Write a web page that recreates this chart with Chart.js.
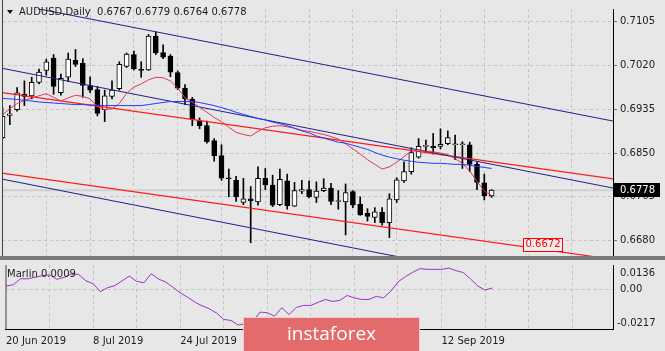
<!DOCTYPE html>
<html>
<head>
<meta charset="utf-8">
<script src="https://cdn.jsdelivr.net/npm/chart.js@4.4.1/dist/chart.umd.min.js"></script>
<style>
    html, body { margin: 0; padding: 0; background: #e7e7e7; overflow: hidden; }
    #painelPreco { position: absolute; left: 0; top: 0; width: 665px; height: 265px; }
    #painelMarlin { position: absolute; left: 0; top: 265px; width: 665px; height: 86px; }
</style>
</head>
<body>
<div id="painelPreco"><canvas id="precoChart"></canvas></div>
<div id="painelMarlin"><canvas id="marlinChart"></canvas></div>
<script>
/* ==============================================
   DADOS (AUDUSD, Daily)
   ============================================== */
const symbolTitle = 'AUDUSD,Daily';

const opens = [0.6880,0.6923,0.6934,0.6964,0.6961,0.6987,0.7010,0.7034,0.6967,0.6997,
    0.7030,0.7024,0.6981,0.6973,0.6934,0.6960,0.6975,0.7018,0.7041,0.7013,
    0.7011,0.7077,0.7045,0.7038,0.7006,0.6976,0.6954,0.6912,0.6903,0.6874,
    0.6845,0.6801,0.6797,0.6754,0.6761,0.6755,0.6801,0.6788,0.6750,0.6796,
    0.6747,0.6776,0.6779,0.6764,0.6777,0.6782,0.6756,0.6755,0.6775,0.6751,
    0.6733,0.6725,0.6735,0.6715,0.6759,0.6796,0.6814,0.6842,0.6863,0.6863,
    0.6863,0.6868,0.6866,0.6866,0.6866,0.6828,0.6792,0.6767];

const highs = [0.6938,0.6942,0.6977,0.6990,0.6997,0.7013,0.7032,0.7041,0.7003,0.7044,
    0.7051,0.7033,0.6998,0.6979,0.6972,0.6990,0.7027,0.7044,0.7048,0.7027,
    0.7080,0.7085,0.7060,0.7041,0.7009,0.6983,0.6958,0.6918,0.6912,0.6878,
    0.6866,0.6819,0.6805,0.6801,0.6785,0.6823,0.6820,0.6807,0.6819,0.6809,
    0.6793,0.6797,0.6796,0.6794,0.6800,0.6791,0.6777,0.6790,0.6777,0.6765,
    0.6742,0.6744,0.6744,0.6771,0.6802,0.6833,0.6860,0.6878,0.6875,0.6888,
    0.6897,0.6893,0.6885,0.6872,0.6871,0.6833,0.6809,0.6779];

const lows = [0.6878,0.6905,0.6931,0.6942,0.6955,0.6984,0.7001,0.6964,0.6962,0.6989,
    0.7018,0.6958,0.6967,0.6922,0.6911,0.6955,0.6972,0.7016,0.7011,0.6997,
    0.7010,0.7041,0.7033,0.6998,0.6973,0.6944,0.6903,0.6897,0.6869,0.6834,
    0.6797,0.6765,0.6756,0.6750,0.6676,0.6749,0.6779,0.6746,0.6748,0.6741,
    0.6746,0.6771,0.6763,0.6754,0.6775,0.6750,0.6741,0.6691,0.6744,0.6729,
    0.6718,0.6715,0.6710,0.6686,0.6754,0.6793,0.6809,0.6840,0.6850,0.6848,
    0.6858,0.6866,0.6837,0.6820,0.6814,0.6779,0.6759,0.6764];

const closes = [0.6921,0.6926,0.6967,0.6960,0.6987,0.7007,0.7027,0.6979,0.6995,0.7032,
    0.7022,0.6981,0.6972,0.6927,0.6961,0.6972,0.7022,0.7042,0.7013,0.7010,
    0.7077,0.7044,0.7036,0.7007,0.6976,0.6955,0.6915,0.6903,0.6872,0.6845,
    0.6801,0.6800,0.6765,0.6761,0.6757,0.6801,0.6788,0.6749,0.6799,0.6748,
    0.6777,0.6779,0.6765,0.6776,0.6782,0.6756,0.6756,0.6773,0.6749,0.6730,
    0.6727,0.6736,0.6715,0.6761,0.6798,0.6814,0.6851,0.6863,0.6863,0.6860,
    0.6867,0.6880,0.6866,0.6866,0.6828,0.6793,0.6767,0.6778];

// media rapida (vermelha) e lenta (azul)
const fastMA = [0.6924,0.6936,0.6946,0.6952,0.6957,0.6961,0.6965,0.6958,0.6951,0.6957,
    0.6962,0.6960,0.6955,0.6940,0.6934,0.6936,0.6946,0.6966,0.6978,0.6984,
    0.6992,0.6997,0.6996,0.6990,0.6976,0.6957,0.6948,0.6939,0.6929,0.6919,
    0.6911,0.6900,0.6890,0.6886,0.6883,0.6892,0.6899,0.6902,0.6903,0.6901,
    0.6898,0.6894,0.6892,0.6889,0.6886,0.6882,0.6877,0.6868,0.6858,0.6848,
    0.6837,0.6828,0.6819,0.6823,0.6832,0.6843,0.6854,0.6856,0.6854,0.6852,
    0.6850,0.6847,0.6839,0.6830,0.6815,0.6795,0.6776,0.6768];

const slowMA = [0.6956,0.6955,0.6954,0.6952,0.6951,0.6949,0.6948,0.6947,0.6946,0.6945,
    0.6944,0.6944,0.6943,0.6943,0.6942,0.6942,0.6942,0.6942,0.6942,0.6942,
    0.6944,0.6946,0.6948,0.6950,0.6950,0.6950,0.6950,0.6948,0.6945,0.6942,
    0.6938,0.6934,0.6929,0.6925,0.6921,0.6917,0.6914,0.6910,0.6907,0.6903,
    0.6898,0.6893,0.6889,0.6883,0.6879,0.6875,0.6871,0.6869,0.6865,0.6861,
    0.6857,0.6851,0.6846,0.6842,0.6839,0.6836,0.6834,0.6832,0.6831,0.6830,
    0.6830,0.6829,0.6828,0.6828,0.6826,0.6824,0.6822,0.6820];

const marlin = [0.0020,0.0027,0.0060,0.0060,0.0068,0.0077,0.0082,0.0057,0.0068,0.0086,
    0.0084,0.0049,0.0033,-0.0011,0.0011,0.0022,0.0049,0.0075,0.0046,0.0038,
    0.0088,0.0059,0.0042,0.0013,-0.0017,-0.0041,-0.0068,-0.0089,-0.0105,-0.0129,
    -0.0164,-0.0170,-0.0195,-0.0188,-0.0175,-0.0124,-0.0127,-0.0146,-0.0100,-0.0137,
    -0.0098,-0.0087,-0.0087,-0.0070,-0.0054,-0.0065,-0.0059,-0.0032,-0.0046,-0.0054,
    -0.0054,-0.0037,-0.0045,-0.0010,0.0042,0.0071,0.0095,0.0116,0.0112,0.0112,
    0.0112,0.0119,0.0105,0.0094,0.0059,0.0020,-0.0002,0.0009];

// canais (barra inicial / final e preco em cada ponta)
const channelBars = [-1, 84];
const navyUpper = [0.7146, 0.6911];
const navyMiddle = [0.7017, 0.6781];
const navyLower = [0.6802, 0.6566];
const redUpper = [0.6969, 0.6799];
const redLower = [0.6813, 0.6643];
const redLabelBar = 71.3;
const redLabelPrice = 0.6672;

// eixos
const priceTicks = [0.7105, 0.7020, 0.6935, 0.6850, 0.6765, 0.6680];
const marlinTicks = [0.0136, 0, -0.0217];
const gridBars = [0, 6, 12, 18, 24, 30, 36, 42, 48, 54, 60, 66, 72, 78];
const dateBars = [0, 12, 24, 36, 48, 60];
const dateLabels = ['20 Jun 2019', '8 Jul 2019', '24 Jul 2019', '9 Aug 2019', '27 Aug 2019', '12 Sep 2019'];

const X_MIN = -0.0685, X_MAX = 83.63;
const PRICE_MIN = 0.66502, PRICE_MAX = 0.71294;
const MARLIN_MIN = -0.0217, MARLIN_MAX = 0.0136;

/* ==============================================
   ESTILO
   ============================================== */
const FONTE = 'DejaVu Sans';
const COR_GRADE = '#c2c2c2';
const COR_TEXTO = '#1c1c1c';

let meuGraficoPreco;
let meuGraficoMarlin;

function linhaCanal(valores) {
    return channelBars.map((b, k) => ({ x: b, y: valores[k] }));
}

function larguraFixa(w) {
    return (scale) => { scale.width = w; };
}

/* ==============================================
   PLUGINS DE DESENHO (moldura, titulo, rotulos)
   ============================================== */
const molduraPreco = {
    id: 'molduraPreco',
    afterDraw(chart) {
        const { ctx, chartArea, scales } = chart;
        const last = closes.length - 1;
        ctx.save();

        // borda esquerda
        ctx.strokeStyle = '#404040';
        ctx.lineWidth = 1;
        ctx.beginPath();
        ctx.moveTo(chartArea.left + 0.5, 0);
        ctx.lineTo(chartArea.left + 0.5, chartArea.bottom);
        ctx.stroke();

        // separador das janelas
        ctx.fillStyle = '#7a7a7a';
        ctx.fillRect(0, chartArea.bottom, chart.width, 4);

        // titulo
        ctx.fillStyle = '#111';
        ctx.beginPath();
        ctx.moveTo(7, 10);
        ctx.lineTo(13, 10);
        ctx.lineTo(10, 14);
        ctx.closePath();
        ctx.fill();
        ctx.font = '10px "' + FONTE + '"';
        ctx.textBaseline = 'middle';
        ctx.fillStyle = COR_TEXTO;
        const ohlc = [opens[last], highs[last], lows[last], closes[last]].map(v => v.toFixed(4)).join(' ');
        ctx.fillText(symbolTitle + '  ' + ohlc, 19, 12.5);

        // rotulo do preco atual
        const yb = scales.y.getPixelForValue(closes[last]);
        ctx.fillStyle = '#000';
        ctx.fillRect(chartArea.right + 1, Math.round(yb) - 7, 46, 14);
        ctx.fillStyle = '#fff';
        ctx.fillText(closes[last].toFixed(4), chartArea.right + 7, yb);

        // rotulo do canal vermelho
        const lx = scales.x.getPixelForValue(redLabelBar);
        const ly = scales.y.getPixelForValue(redLabelPrice);
        const txt = redLabelPrice.toFixed(4);
        const w = ctx.measureText(txt).width + 4;
        ctx.fillStyle = '#ececec';
        ctx.fillRect(Math.round(lx) + 0.5, Math.round(ly) - 6.5, w, 13);
        ctx.strokeStyle = '#ff0000';
        ctx.strokeRect(Math.round(lx) + 0.5, Math.round(ly) - 6.5, w, 13);
        ctx.fillStyle = '#ff0000';
        ctx.fillText(txt, Math.round(lx) + 2.5, ly);
        ctx.restore();
    }
};

const molduraMarlin = {
    id: 'molduraMarlin',
    afterDraw(chart) {
        const { ctx, chartArea, scales } = chart;
        ctx.save();

        ctx.strokeStyle = '#404040';
        ctx.lineWidth = 1;
        ctx.beginPath();
        ctx.moveTo(chartArea.left + 0.5, 0);
        ctx.lineTo(chartArea.left + 0.5, chartArea.bottom);
        ctx.stroke();

        ctx.font = '10px "' + FONTE + '"';
        ctx.textBaseline = 'middle';
        ctx.fillStyle = COR_TEXTO;
        ctx.fillText('Marlin ' + marlin[marlin.length - 1].toFixed(4), 7, 9.5);

        // escala do indicador: extremos ficam dentro da janela
        marlinTicks.forEach(v => {
            let y = scales.y.getPixelForValue(v);
            y = Math.max(chartArea.top + 8, Math.min(chartArea.bottom - 6, y));
            const txt = v === 0 ? '0.00' : v.toFixed(4);
            ctx.fillText(txt, chartArea.right + (v < 0 ? 4 : 7), y);
        });

        // marca d'agua
        ctx.fillStyle = '#e46b6b';
        ctx.fillRect(243, 52, 177, 34);
        ctx.strokeStyle = '#f3c9c9';
        ctx.strokeRect(243.5, 52.5, 176, 34);
        ctx.fillStyle = '#ffffff';
        ctx.font = '19px "Open Sans"';
        ctx.textAlign = 'center';
        ctx.fillText('instaforex', 331.5, 70);
        ctx.restore();
    }
};

/* ==============================================
   INICIALIZACAO DOS GRAFICOS
   ============================================== */
function inicializarGraficos() {
    const last = closes.length - 1;
    const ctxPreco = document.getElementById('precoChart').getContext('2d');
    meuGraficoPreco = new Chart(ctxPreco, {
        type: 'bar',
        data: {
            datasets: [
                {
                    type: 'line',
                    label: 'Bid',
                    data: linhaCanal([closes[last], closes[last]]),
                    borderColor: '#d0d0d0',
                    borderWidth: 2,
                    pointRadius: 0,
                    order: 10
                },
                {
                    label: 'Sombras',
                    data: lows.map((l, i) => ({ x: i, y: [l, highs[i]] })),
                    backgroundColor: '#000',
                    borderWidth: 0,
                    barThickness: 1,
                    grouped: false,
                    order: 5
                },
                {
                    label: 'Corpos',
                    data: opens.map((o, i) => ({ x: i, y: [o, closes[i]] })),
                    backgroundColor: opens.map((o, i) => closes[i] >= o ? '#ffffff' : '#000000'),
                    borderColor: '#000',
                    borderWidth: 1,
                    borderSkipped: false,
                    barThickness: 5,
                    minBarLength: 1,
                    grouped: false,
                    order: 4
                },
                { type: 'line', label: 'Canal 1', data: linhaCanal(navyUpper), borderColor: '#1f1f8c', borderWidth: 1, pointRadius: 0, order: 2 },
                { type: 'line', label: 'Canal 2', data: linhaCanal(navyMiddle), borderColor: '#1f1f8c', borderWidth: 1, pointRadius: 0, order: 2 },
                { type: 'line', label: 'Canal 3', data: linhaCanal(navyLower), borderColor: '#1f1f8c', borderWidth: 1, pointRadius: 0, order: 2 },
                { type: 'line', label: 'Canal 4', data: linhaCanal(redUpper), borderColor: '#ff1a1a', borderWidth: 1.2, pointRadius: 0, order: 2 },
                { type: 'line', label: 'Canal 5', data: linhaCanal(redLower), borderColor: '#ff1a1a', borderWidth: 1.2, pointRadius: 0, order: 2 },
                {
                    type: 'line',
                    label: 'MA lenta',
                    data: slowMA.map((v, i) => ({ x: i, y: v })),
                    borderColor: '#2438ff',
                    borderWidth: 1,
                    pointRadius: 0,
                    order: 1
                },
                {
                    type: 'line',
                    label: 'MA rapida',
                    data: fastMA.map((v, i) => ({ x: i, y: v })),
                    borderColor: '#e0365c',
                    borderWidth: 1,
                    pointRadius: 0,
                    order: 1
                }
            ]
        },
        options: {
            responsive: true,
            maintainAspectRatio: false,
            animation: false,
            events: [],
            layout: { padding: { left: 2, top: 0, right: 0, bottom: 4 } },
            plugins: { legend: { display: false }, tooltip: { enabled: false } },
            scales: {
                x: {
                    type: 'linear',
                    min: X_MIN,
                    max: X_MAX,
                    offset: false,
                    afterBuildTicks: (scale) => { scale.ticks = gridBars.map(v => ({ value: v })); },
                    afterFit: (scale) => { scale.height = 0; },
                    ticks: { display: false },
                    grid: {
                        offset: false,
                        drawTicks: false,
                        color: (c) => (c.tick && c.tick.value === 0) ? 'rgba(0,0,0,0)' : COR_GRADE
                    },
                    border: { display: false, dash: [3, 3] }
                },
                y: {
                    type: 'linear',
                    position: 'right',
                    min: PRICE_MIN,
                    max: PRICE_MAX,
                    beginAtZero: false,
                    afterBuildTicks: (scale) => { scale.ticks = priceTicks.map(v => ({ value: v })); },
                    afterFit: larguraFixa(52),
                    ticks: {
                        callback: (v) => v.toFixed(4),
                        color: COR_TEXTO,
                        padding: 3,
                        font: { family: FONTE, size: 10 }
                    },
                    grid: { color: COR_GRADE, tickLength: 4, tickColor: '#777' },
                    border: { display: true, color: '#000', width: 1, dash: [3, 3] }
                }
            }
        },
        plugins: [molduraPreco]
    });

    const ctxMarlin = document.getElementById('marlinChart').getContext('2d');
    meuGraficoMarlin = new Chart(ctxMarlin, {
        type: 'line',
        data: {
            datasets: [{
                label: 'Marlin',
                data: marlin.map((v, i) => ({ x: i, y: v })),
                borderColor: '#9b34c4',
                borderWidth: 1,
                pointRadius: 0,
                tension: 0
            }]
        },
        options: {
            responsive: true,
            maintainAspectRatio: false,
            animation: false,
            events: [],
            layout: { padding: { left: 2, top: 0, right: 0, bottom: 0 } },
            plugins: { legend: { display: false }, tooltip: { enabled: false } },
            scales: {
                x: {
                    type: 'linear',
                    min: X_MIN,
                    max: X_MAX,
                    afterBuildTicks: (scale) => { scale.ticks = gridBars.map(v => ({ value: v })); },
                    afterFit: (scale) => { scale.height = 22; },
                    ticks: {
                        autoSkip: false,
                        maxRotation: 0,
                        align: 'start',
                        padding: 6,
                        color: COR_TEXTO,
                        font: { family: FONTE, size: 10 },
                        callback: (v) => {
                            const k = dateBars.indexOf(v);
                            return k >= 0 ? dateLabels[k] : '';
                        }
                    },
                    grid: {
                        drawTicks: false,
                        color: (c) => (c.tick && c.tick.value === 0) ? 'rgba(0,0,0,0)' : COR_GRADE
                    },
                    border: { display: true, color: '#000', width: 1, dash: [3, 3] }
                },
                y: {
                    type: 'linear',
                    position: 'right',
                    min: MARLIN_MIN,
                    max: MARLIN_MAX,
                    afterBuildTicks: (scale) => { scale.ticks = marlinTicks.map(v => ({ value: v })); },
                    afterFit: larguraFixa(52),
                    ticks: { display: false },
                    grid: {
                        drawTicks: false,
                        color: (c) => (c.tick && c.tick.value === 0) ? COR_GRADE : 'rgba(0,0,0,0)'
                    },
                    border: { display: true, color: '#000', width: 1, dash: [3, 3] }
                }
            }
        },
        plugins: [molduraMarlin]
    });
}

/* ==============================================
   EXECUCAO INICIAL
   ============================================== */
inicializarGraficos();
</script>
</body>
</html>
